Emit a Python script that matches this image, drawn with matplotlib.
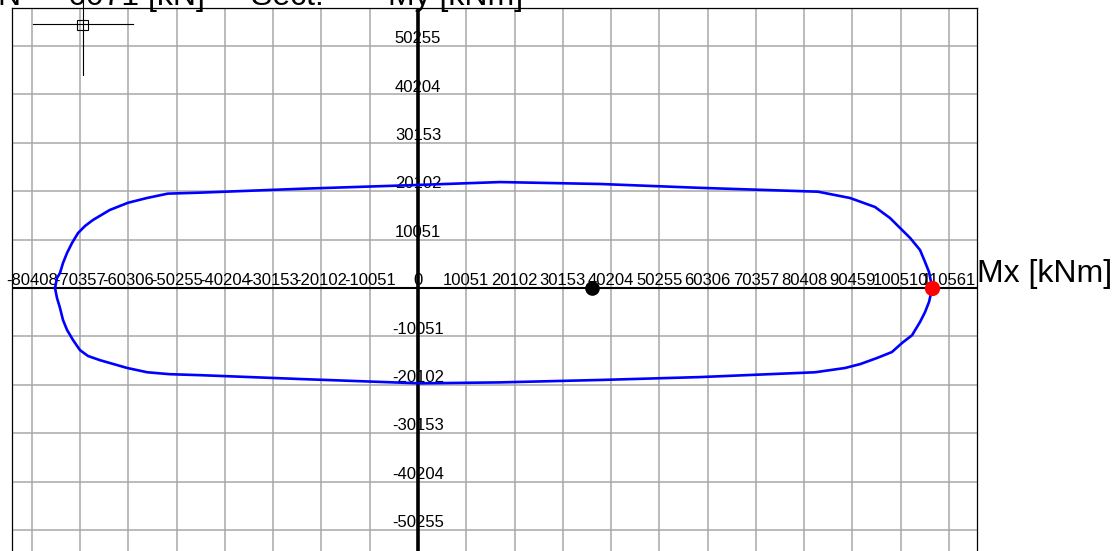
import matplotlib.pyplot as plt
from matplotlib.patches import Rectangle
from matplotlib.lines import Line2D

plt.rcParams['font.family'] = ['Liberation Sans', 'DejaVu Sans']

# grid / tick values [kNm]
x_ticks = [-80408, -70357, -60306, -50255, -40204, -30153, -20102, -10051, 0,
           10051, 20102, 30153, 40204, 50255, 60306, 70357, 80408, 90459,
           100510, 110561]
y_ticks = [-50255, -40204, -30153, -20102, -10051, 0,
           10051, 20102, 30153, 40204, 50255]

# interaction curve (Mx, My) [kNm]
mx = [-75600, -75186, -74560, -73936, -73100, -72061, -70800, -69354, -67700,
      -64200, -60400, -56400, -52100, -45400, -24600, 0, 17100, 37900, 58700,
      83300, 89973, 95179, 98300, 102500, 104552, 105600, 106426, 107100,
      106426, 105600, 104552, 102900, 100803, 98700, 95596, 92100, 88931,
      82700, 58700, 37900, 17100, 400, -24600, -45400, -51700, -56400,
      -60600, -66200, -68729, -70400, -71853, -73100, -73936, -74600,
      -75186, -75600]
my = [0, 2077, 3115, 5192, 7268, 9345, 11422, 12876, 14122,
      16200, 17700, 18700, 19600, 19800, 20600, 21400, 22000, 21600, 20800,
      20000, 18690, 16821, 14537, 10384, 7891, 5400, 3323, 0,
      -2907, -5000, -7061, -9800, -11422, -13300, -14537, -15800, -16614,
      -17500, -18500, -19100, -19600, -19800, -18900, -18100, -17900, -17500,
      -16600, -15000, -14122, -12900, -10799, -8700, -6645, -4000,
      -2077, 0]

capacity_pt = (107100, 0)
design_pt = (36200, 0)

W, H = 1116, 551
fig = plt.figure(figsize=(W / 100, H / 100), dpi=100)
ax = fig.add_axes([11.7 / W, 0, (977 - 11.7) / W, (H - 8.3) / H])
ax.set_xlim(-84620, 116420)
ax.set_ylim(-54617, 58086)

ax.set_xticks(x_ticks)
ax.set_yticks(y_ticks)
ax.tick_params(length=0, labelbottom=False, labelleft=False)
ax.grid(True, color='#a8a8a8', lw=1.1, zorder=0)
ax.set_axisbelow(True)
for s in ['top', 'left', 'right']:
    ax.spines[s].set_color('black')
    ax.spines[s].set_linewidth(0.9)
ax.spines['bottom'].set_visible(False)

# tick labels sit on the axes lines
for v in x_ticks:
    ax.annotate(str(v), (v, 0), xytext=(0, 2), textcoords='offset points',
                ha='center', va='baseline', fontsize=12, zorder=1)
for v in y_ticks:
    if v == 0:
        continue
    ax.annotate(str(v), (0, v), xytext=(0, 2), textcoords='offset points',
                ha='center', va='baseline', fontsize=12, zorder=1)

ax.axhline(0, color='black', lw=1.5, zorder=2)
ax.axvline(0, color='black', lw=2.6, zorder=2)

ax.plot(mx, my, color='#0000ff', lw=1.9, zorder=3)
ax.plot(*design_pt, 'o', color='black', ms=9.5, zorder=4)
ax.plot(*capacity_pt, 'o', color='#ff0000', ms=10, zorder=4)

ax.annotate('Mx [kNm]', (1, 0), xycoords=('axes fraction', 'data'),
            xytext=(0, 4), textcoords='offset points',
            ha='left', va='baseline', fontsize=23, annotation_clip=False)

# title, cut off by the top of the image
fig.text(-2 / W, 1 - 5 / H, 'N = -6071 [kN]  -  Sect.', fontsize=23,
         ha='left', va='baseline')
fig.text(388 / W, 1 - 5 / H, 'My [kNm]', fontsize=23,
         ha='left', va='baseline')

# small UCS crosshair in the corner
fig.add_artist(Line2D([33 / W, 133 / W], [1 - 24 / H, 1 - 24 / H],
                      color='black', lw=0.8))
fig.add_artist(Line2D([82.5 / W, 82.5 / W], [1, 1 - 75 / H],
                      color='black', lw=0.8))
fig.add_artist(Rectangle((77 / W, 1 - 29.5 / H), 11 / W, 10 / H,
                         fill=False, ec='black', lw=0.8))

fig.savefig('out.png', dpi=100)
